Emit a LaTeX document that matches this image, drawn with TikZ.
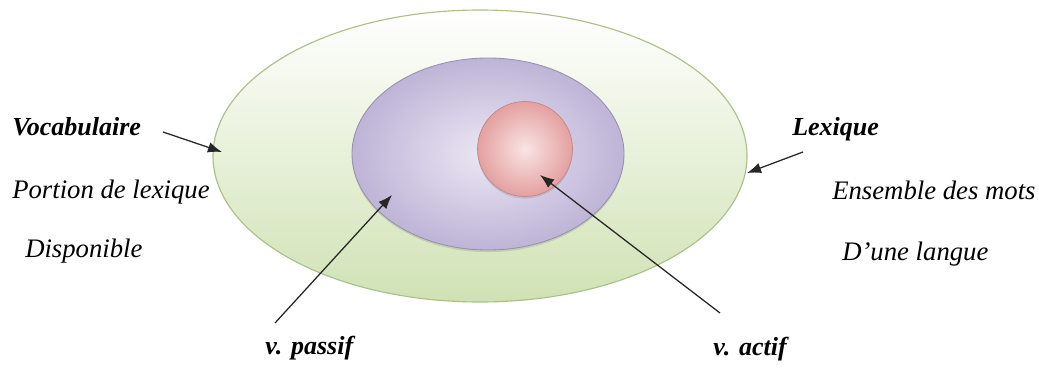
\documentclass[tikz,border=0pt]{standalone}
\usepackage{fontspec}
\setmainfont{Liberation Serif}
\usepackage{tikz}
\usetikzlibrary{shapes}
\usetikzlibrary{positioning}
\usetikzlibrary{arrows.meta}
\usetikzlibrary{shadows}
\definecolor{lexgreen}{RGB}{208,226,180}
\definecolor{lexgreenline}{RGB}{170,192,135}
\definecolor{vocpurple}{RGB}{190,180,215}
\definecolor{vocpurplein}{RGB}{236,232,244}
\definecolor{actred}{RGB}{228,160,160}
\definecolor{actredin}{RGB}{250,228,228}
\tikzset{
    pointer/.style = {-{Latex[length=10pt,width=7.5pt]},line width=0.9pt,draw=black!85},
    lexset/.style = {ellipse, inner sep=0pt, draw=lexgreenline, line width=0.8pt,
        minimum width=133.5mm, minimum height=73mm, top color=white, bottom color=lexgreen},
    vocset/.style = {ellipse, inner sep=0pt, draw=vocpurple!80!black, line width=0.6pt,
        minimum width=68mm, minimum height=48mm, inner color=vocpurplein, outer color=vocpurple,
        drop shadow={opacity=0.25,shadow xshift=0pt,shadow yshift=-1.5pt}},
    actset/.style = {circle, inner sep=0pt, draw=actred!85!black, line width=0.5pt,
        minimum size=23.75mm, inner color=actredin, outer color=actred,
        drop shadow={opacity=0.25,shadow xshift=0pt,shadow yshift=-1.5pt}},
    word/.style = {inner sep=0pt, anchor=base west, font=\itshape\fontsize{19}{23}\selectfont},
    bword/.style = {word, font=\bfseries\itshape\fontsize{18.5}{22}\selectfont}
}
\begin{document}
\begin{tikzpicture}[x=0.25mm,y=-0.25mm]
\useasboundingbox (0,0) rectangle (1039,391);
%
\node[lexset] at (480,156) (lex) {};
\node[vocset] at (488,154) (pas) {};
\node[actset] at (525,149) (act) {};
%
\node[bword] at (12,135) (voc) {Vocabulaire};
\node[word] at (12,198) (por) {Portion de lexique};
\node[word] at (25,257) (dis) {Disponible};
\node[bword] at (792,135) (lexw) {Lexique};
\node[word] at (832,199) (ens) {Ensemble des mots};
\node[word] at (842,260) (lan) {D'une langue};
\node[bword] at (265,354) (vpas) {v. passif};
\node[bword] at (713,355) (vact) {v. actif};
%
\coordinate (vocfrom) at (163,132);
\coordinate (vocto) at (222,152);
\coordinate (lexfrom) at (803,152);
\coordinate (lexto) at (747,173);
\coordinate (pasfrom) at (275,323);
\coordinate (pasto) at (392,195);
\coordinate (actfrom) at (720,313);
\coordinate (actto) at (540,175);
%
\draw[pointer] (vocfrom) -- (vocto);
\draw[pointer] (lexfrom) -- (lexto);
\draw[pointer] (pasfrom) -- (pasto);
\draw[pointer] (actfrom) -- (actto);
\end{tikzpicture}
\end{document}
